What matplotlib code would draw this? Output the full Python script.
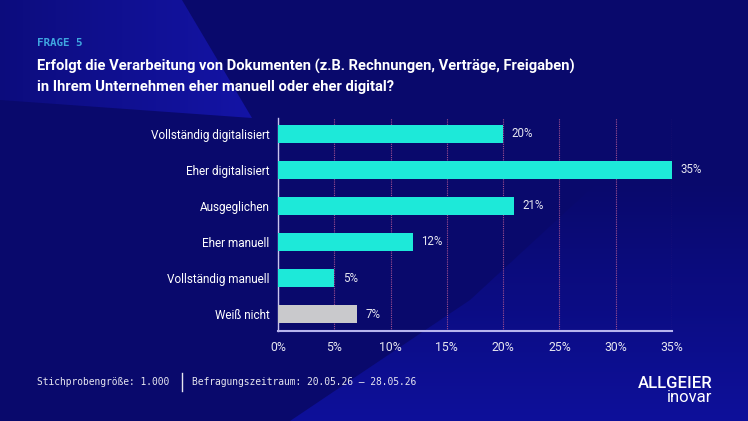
import numpy as np
import matplotlib
matplotlib.use("Agg")
import matplotlib.pyplot as plt
from matplotlib.patches import Polygon
from matplotlib.ticker import FuncFormatter

categories = ["Vollständig digitalisiert", "Eher digitalisiert", "Ausgeglichen",
              "Eher manuell", "Vollständig manuell", "Weiß nicht"]
values = [20, 35, 21, 12, 5, 7]
bar_colors = ["#1de9d9"] * 5 + ["#c9c9cc"]
ticks = [0, 5, 10, 15, 20, 25, 30, 35]

BG = "#09096c"
W, H = 748, 421

fig = plt.figure(figsize=(W / 100, H / 100), dpi=100)
fig.patch.set_facecolor(BG)

# background shapes
bg = fig.add_axes([0, 0, 1, 1], zorder=-10)
bg.set_xlim(0, W)
bg.set_ylim(H, 0)
bg.axis("off")
grad = np.tile(np.linspace(0.3, 1, 200), (50, 1))
cmap_l = matplotlib.colors.LinearSegmentedColormap.from_list("l", [BG, "#1414a6"])
im1 = bg.imshow(grad, extent=[0, 255, 120, 0], cmap=cmap_l, aspect="auto",
                vmin=0, vmax=1)
p1 = Polygon([(0, 0), (182, 0), (252, 118), (0, 100)], closed=True,
             transform=bg.transData, facecolor="none", edgecolor="none")
bg.add_patch(p1)
im1.set_clip_path(p1)
grad2 = np.tile(np.linspace(0, 1, 200)[:, None], (1, 50))
cmap_b = matplotlib.colors.LinearSegmentedColormap.from_list("b", [BG, "#0e109a"])
im2 = bg.imshow(grad2, extent=[280, W, H, 180], cmap=cmap_b, aspect="auto")
p2 = Polygon([(290, H), (470, 300), (600, 180), (W, 150), (W, H)], closed=True,
             transform=bg.transData, facecolor="none", edgecolor="none")
bg.add_patch(p2)
im2.set_clip_path(p2)

ax = fig.add_axes([278 / W, 1 - 331 / H, (672 - 278) / W, (331 - 118) / H])
ax.set_facecolor("none")
y = np.arange(len(categories))
ax.barh(y, values, height=0.5, color=bar_colors, zorder=3)
for yi, v in zip(y, values):
    ax.text(v + 0.75, yi, f"{v}%", va="center", ha="left", color="#e6e6f0",
            fontsize=8.3, family="Roboto")

ax.set_xlim(0, 35)
ax.set_ylim(5.47, -0.44)
ax.set_xticks(ticks)
ax.xaxis.set_major_formatter(FuncFormatter(lambda v, p: f"{v:.0f}%"))
ax.set_yticks(y)
ax.set_yticklabels(categories)
ax.tick_params(axis="x", length=0, pad=7, colors="#e6e6f0", labelsize=8.8)
ax.tick_params(axis="y", length=0, pad=6, colors="#ffffff", labelsize=8.5)
for lab in ax.get_xticklabels() + ax.get_yticklabels():
    lab.set_family("Roboto")
ax.grid(axis="x", color="#a05090", linestyle=(0, (1, 1)), linewidth=0.8, zorder=0)
for s in ["top", "right"]:
    ax.spines[s].set_visible(False)
ax.spines["left"].set_color("#c9c4ee")
ax.spines["bottom"].set_color("#b7b4ee")
ax.spines["left"].set_linewidth(1)
ax.spines["bottom"].set_linewidth(1.5)

# texts
fig.text(37 / W, 1 - 43 / H, "FRAGE 5", color="#3fa6e0", fontsize=7.8,
         family="DejaVu Sans Mono", fontweight="bold", va="center")
fig.text(37 / W, 1 - 66 / H, "Erfolgt die Verarbeitung von Dokumenten (z.B. Rechnungen, Verträge, Freigaben)",
         color="white", fontsize=10.6, family="Roboto", fontweight="bold", va="center")
fig.text(37 / W, 1 - 87 / H, "in Ihrem Unternehmen eher manuell oder eher digital?",
         color="white", fontsize=10.6, family="Roboto", fontweight="bold", va="center")
fig.text(37 / W, 1 - 382 / H, "Stichprobengröße: 1.000", color="#e6e6f0", fontsize=6.9,
         family="DejaVu Sans Mono", va="center")
fig.text(192 / W, 1 - 382 / H, "Befragungszeitraum: 20.05.26 – 28.05.26", color="#e6e6f0",
         fontsize=6.9, family="DejaVu Sans Mono", va="center")
fig.add_artist(plt.Line2D([182 / W, 182 / W], [1 - 373 / H, 1 - 391 / H],
                          color="#e6e6f0", linewidth=1))
fig.text(712 / W, 1 - 383 / H, "ALLGEIER", color="white", fontsize=12,
         family="Roboto", fontweight="medium", ha="right", va="center")
fig.text(712 / W, 1 - 398 / H, "inovar", color="white", fontsize=12,
         family="Roboto", ha="right", va="center")

fig.savefig("out.png", dpi=100, facecolor=fig.get_facecolor())
